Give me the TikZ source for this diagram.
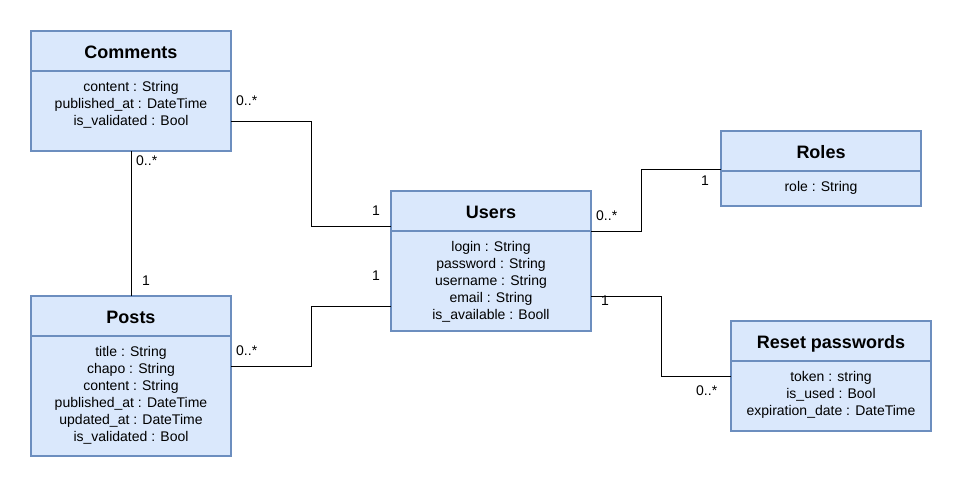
\documentclass[tikz,border=0pt]{standalone}
\usepackage{fontspec}
\setmainfont{Liberation Sans}
\definecolor{boxfill}{HTML}{DAE8FC}
\definecolor{boxline}{HTML}{6C8EBF}
\begin{document}
\begin{tikzpicture}[x=1pt,y=-1pt,
  hdr/.style={draw=boxline,fill=boxfill,line width=2.4pt,minimum width=200pt,minimum height=40pt,
    inner sep=0pt,outer sep=0pt,anchor=north,font=\fontsize{18}{21}\selectfont\bfseries,
    text height=14.9pt,text depth=0pt},
  bodybox/.style={draw=boxline,fill=boxfill,line width=2.4pt,minimum width=200pt,
    inner sep=0pt,outer sep=0pt,anchor=north},
  attr/.style={anchor=north,inner sep=0pt,align=center,font=\fontsize{14}{17}\selectfont},
  lbl/.style={anchor=west,inner sep=0pt,font=\fontsize{14}{17}\selectfont},
  conn/.style={draw=black,line width=1pt}]
\useasboundingbox (0,0) rectangle (963,488);

% Comments
\node[bodybox,minimum height=80pt] (cB) at (131,71) {};
\node[hdr] (cH) at (131,31) {Comments};
\node[attr] (cT) at (131,81) {content : String\\published\_at : DateTime\\is\_validated : Bool};

% Posts
\node[bodybox,minimum height=120pt] (pB) at (131,336) {};
\node[hdr] (pH) at (131,296) {Posts};
\node[attr] (pT) at (131,346) {title : String\\chapo : String\\content : String\\published\_at : DateTime\\updated\_at : DateTime\\is\_validated : Bool};

% Users
\node[bodybox,minimum height=100pt] (uB) at (491,231) {};
\node[hdr] (uH) at (491,191) {Users};
\node[attr] (uT) at (491,241) {login : String\\password : String\\username : String\\email : String\\is\_available : Booll};

% Roles
\node[bodybox,minimum height=35pt] (rB) at (821,171) {};
\node[hdr] (rH) at (821,131) {Roles};
\node[attr] (rT) at (821,181) {role : String};

% Reset passwords
\node[bodybox,minimum height=70pt] (xB) at (831,361) {};
\node[hdr] (xH) at (831,321) {Reset passwords};
\node[attr] (xT) at (831,371) {token : string\\is\_used : Bool\\expiration\_date : DateTime};

% connectors
\draw[conn] ([yshift=-50pt]cB.north east) -- ++(80,0) |- ([yshift=5pt]uH.south west);
\draw[conn] (cB.south) -- (pH.north);
\draw[conn] ([yshift=-30pt]pB.north east) -- ++(80,0) |- ([yshift=-75pt]uB.north west);
\draw[conn] (uH.south east) -- ++(50,0) |- ([yshift=2pt]rH.south west);
\draw[conn] ([yshift=-65pt]uB.north east) -- ++(70,0) |- ([yshift=-15pt]xB.north west);

% multiplicities
\node[lbl] (l1) at (236,101) {0..*};
\node[lbl] (l2) at (372,211) {1};
\node[lbl] (l3) at (136,161) {0..*};
\node[lbl] (l4) at (142,281) {1};
\node[lbl] (l5) at (372,276) {1};
\node[lbl] (l6) at (236,351) {0..*};
\node[lbl] (l7) at (596,216) {0..*};
\node[lbl] (l8) at (701,181) {1};
\node[lbl] (l9) at (601,301) {1};
\node[lbl] (l10) at (696,391) {0..*};
\end{tikzpicture}
\end{document}
